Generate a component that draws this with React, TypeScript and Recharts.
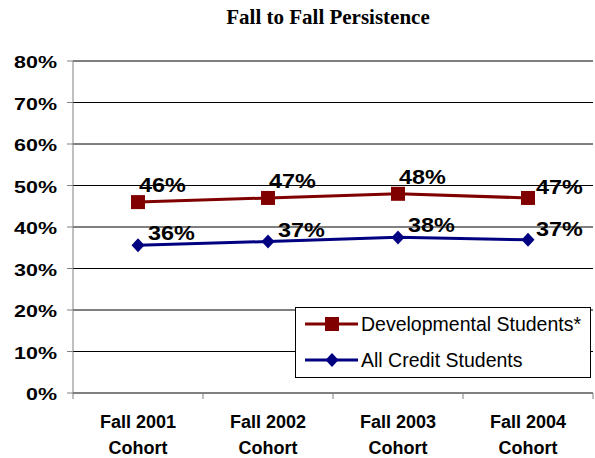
import { LineChart, Line, XAxis, YAxis, CartesianGrid, Legend, LabelList } from 'recharts';

const categories = ['Fall 2001', 'Fall 2002', 'Fall 2003', 'Fall 2004'];
const categorySuffix = 'Cohort';
const developmental = [46.0, 47.0, 48.0, 47.0];
const allCredit = [35.6, 36.5, 37.5, 36.9];
const seriesNames = ['Developmental Students*', 'All Credit Students'];
const yTicks = [0, 10, 20, 30, 40, 50, 60, 70, 80];
// integer ticks = category boundaries, half ticks = category centres
const xTicks = [0, 0.5, 1, 1.5, 2, 2.5, 3, 3.5, 4];

const data = categories.map((c, i) => ({
  x: i + 0.5,
  name: c,
  dev: developmental[i],
  all: allCredit[i],
}));

const RED = '#800000';
const BLUE = '#000080';
const AXIS = '#808080';
const SANS = '"Liberation Sans", Arial, sans-serif';

const YTick = (props: any) => {
  const { x, y, payload } = props;
  return (
    <text
      transform={`translate(${x},${y + 7}) scale(1.3,1)`}
      textAnchor="end"
      fontSize={16.5}
      fontWeight="bold"
      fontFamily={SANS}
      fill="#000"
    >
      {payload.value}%
    </text>
  );
};

const XTick = (props: any) => {
  const { x, y, payload } = props;
  const v = payload.value;
  if (Number.isInteger(v)) {
    return <line x1={x} y1={y} x2={x} y2={y + 6} stroke={AXIS} strokeWidth={1} />;
  }
  const label = categories[Math.floor(v)];
  return (
    <g>
      <text x={x} y={y + 35} textAnchor="middle" fontSize={18} fontWeight="bold" fontFamily={SANS} fill="#000">
        {label}
      </text>
      <text x={x} y={y + 61} textAnchor="middle" fontSize={18} fontWeight="bold" fontFamily={SANS} fill="#000">
        {categorySuffix}
      </text>
    </g>
  );
};

const makeLabel = (dx: number, dy: number) => (props: any) => {
  const { x, y, value, index } = props;
  const last = index === categories.length - 1;
  const tx = x + (last ? 8 : dx);
  const ty = y + (last ? -4 : dy);
  return (
    <text
      key={`l-${index}`}
      transform={`translate(${tx},${ty}) scale(1.2,1)`}
      fontSize={19.5}
      fontWeight="bold"
      fontFamily={SANS}
      fill="#000"
    >
      {Math.round(value)}%
    </text>
  );
};

const squareDot = (props: any) => {
  const { cx, cy, index } = props;
  return <rect key={`s-${index}`} x={cx - 7} y={cy - 7} width={14} height={14} fill={RED} />;
};

const diamondDot = (props: any) => {
  const { cx, cy, index } = props;
  return (
    <polygon
      key={`d-${index}`}
      points={`${cx},${cy - 7} ${cx + 6.5},${cy} ${cx},${cy + 7} ${cx - 6.5},${cy}`}
      fill={BLUE}
    />
  );
};

const LegendBox = (props: any) => {
  const items = [...(props.payload || [])].sort(
    (a: any, b: any) => seriesNames.indexOf(a.value) - seriesNames.indexOf(b.value)
  );
  return (
    <div
      style={{
        width: 296,
        height: 71,
        boxSizing: 'border-box',
        border: '1px solid #000',
        background: '#fff',
        position: 'relative',
      }}
    >
      {items.map((it: any, i: number) => {
        const isSquare = it.value === seriesNames[0];
        return (
          <div
            key={i}
            style={{
              position: 'absolute',
              left: 9,
              top: i === 0 ? 0 : 34,
              height: i === 0 ? 32 : 36,
              display: 'flex',
              alignItems: 'center',
            }}
          >
            <svg width={53} height={16} style={{ display: 'block' }}>
              <line x1={0} y1={8} x2={53} y2={8} stroke={it.color} strokeWidth={3} />
              {isSquare ? (
                <rect x={20} y={1} width={14} height={14} fill={it.color} />
              ) : (
                <polygon points="27,1 33.5,8 27,15 20.5,8" fill={it.color} />
              )}
            </svg>
            <span style={{ fontFamily: SANS, fontSize: 19.5, color: '#000', marginLeft: 3, whiteSpace: 'nowrap' }}>
              {it.value}
            </span>
          </div>
        );
      })}
    </div>
  );
};

export default function App() {
  return (
    <div style={{ position: 'relative', width: 595, height: 458, background: '#fff' }}>
      <style>{`body{margin:0}`}</style>
      <div
        style={{
          position: 'absolute',
          left: 328,
          top: 7,
          transform: 'translateX(-50%)',
          whiteSpace: 'nowrap',
          fontFamily: '"Liberation Serif", "Times New Roman", serif',
          fontWeight: 'bold',
          fontSize: 21,
          lineHeight: '21px',
          zIndex: 2,
        }}
      >
        Fall to Fall Persistence
      </div>
      <LineChart width={595} height={458} data={data} margin={{ top: 61, right: 2, bottom: 0, left: 0 }}>
        <CartesianGrid vertical={false} stroke="#000" strokeWidth={1} />
        <XAxis
          type="number"
          dataKey="x"
          domain={[0, 4]}
          ticks={xTicks}
          interval={0}
          height={65}
          tickSize={0}
          tickMargin={0}
          tickLine={false}
          axisLine={{ stroke: AXIS, strokeWidth: 1 }}
          tick={<XTick />}
        />
        <YAxis
          type="number"
          domain={[0, 80]}
          ticks={yTicks}
          interval={0}
          width={73}
          tickSize={6}
          tickMargin={10}
          tickLine={{ stroke: AXIS }}
          axisLine={{ stroke: AXIS, strokeWidth: 1 }}
          tick={<YTick />}
        />
        <Legend
          layout="horizontal"
          verticalAlign="middle"
          align="center"
          content={<LegendBox />}
          wrapperStyle={{ left: 295, top: 307, width: 296, height: 71 }}
        />
        <Line
          name={seriesNames[0]}
          dataKey="dev"
          stroke={RED}
          strokeWidth={3}
          type="linear"
          dot={squareDot}
          activeDot={false}
          isAnimationActive={false}
        >
          <LabelList dataKey="dev" content={makeLabel(1, -10)} />
        </Line>
        <Line
          name={seriesNames[1]}
          dataKey="all"
          stroke={BLUE}
          strokeWidth={3}
          type="linear"
          dot={diamondDot}
          activeDot={false}
          isAnimationActive={false}
        >
          <LabelList dataKey="all" content={makeLabel(10, -5)} />
        </Line>
      </LineChart>
    </div>
  );
}
